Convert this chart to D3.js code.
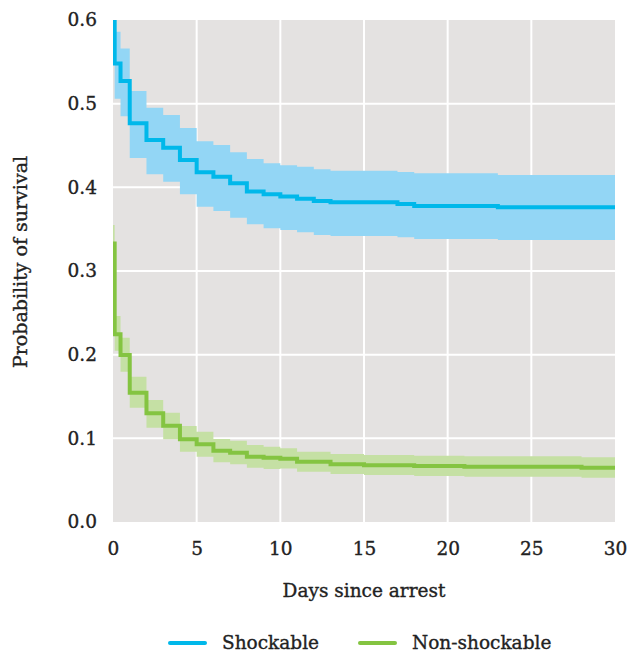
<!DOCTYPE html>
<html>
<head>
<meta charset="utf-8">
<script src="https://cdn.jsdelivr.net/npm/d3@7"></script>
<style>
  body { margin: 0; background: #fff; }
  text { font-family: "DejaVu Serif", serif; fill: #222; stroke: #222; stroke-width: 0.35px; }
</style>
</head>
<body>
<svg id="chart" width="642" height="653"></svg>
<script>
// Kaplan-Meier style survival curves
var shockDays = [0, 0.1, 0.45, 1, 2, 3, 4, 5, 6, 7, 8, 9, 10, 11, 12, 13, 17, 18, 23, 30];
var shockSurv = [0.64, 0.548, 0.527, 0.4765, 0.4566, 0.4474, 0.4327, 0.418, 0.4127, 0.405, 0.395, 0.3917, 0.389, 0.3864, 0.3837, 0.3821, 0.3801, 0.3777, 0.3761, 0.3761];
var shockLow  = [0.61, 0.506, 0.485, 0.435, 0.4155, 0.4067, 0.3917, 0.3769, 0.3717, 0.3637, 0.356, 0.351, 0.349, 0.3462, 0.343, 0.3418, 0.3402, 0.3382, 0.337, 0.337];
var shockHigh = [0.67, 0.586, 0.566, 0.515, 0.495, 0.4864, 0.471, 0.455, 0.4506, 0.4418, 0.4338, 0.4287, 0.4263, 0.4247, 0.4215, 0.4199, 0.4183, 0.4167, 0.4147, 0.4147];

var nonDays = [0, 0.1, 0.45, 1, 2, 3, 4, 5, 6, 7, 8, 9, 10, 11, 13, 15, 18, 21, 28, 30];
var nonSurv = [0.333, 0.2243, 0.1996, 0.1545, 0.1299, 0.1151, 0.0988, 0.0928, 0.0852, 0.0828, 0.078, 0.0769, 0.0755, 0.0721, 0.069, 0.0678, 0.0669, 0.0661, 0.0649, 0.0649];
var nonLow  = [0.31, 0.2048, 0.1797, 0.1366, 0.1127, 0.0988, 0.084, 0.078, 0.0713, 0.0689, 0.0649, 0.0633, 0.064, 0.0602, 0.0574, 0.0562, 0.055, 0.0542, 0.053, 0.053];
var nonHigh = [0.355, 0.2462, 0.2203, 0.1737, 0.1458, 0.1306, 0.1147, 0.1079, 0.0992, 0.0972, 0.092, 0.09, 0.0881, 0.0841, 0.0813, 0.0801, 0.0793, 0.0785, 0.0773, 0.0773];

var xTicks = [0, 5, 10, 15, 20, 25, 30];
var yTicks = [0, 0.1, 0.2, 0.3, 0.4, 0.5, 0.6];
var seriesNames = ['Shockable', 'Non-shockable'];

var svg = d3.select('svg#chart');
var pLeft = 113, pRight = 615, pTop = 20, pBottom = 522;
var fs = 18.5;

var x = d3.scaleLinear().domain([0, 30]).range([pLeft, pRight]);
var y = d3.scaleLinear().domain([0, 0.6]).range([pBottom, pTop]);

svg.append('defs').append('clipPath').attr('id', 'clip')
  .append('rect')
  .attr('x', pLeft).attr('y', pTop)
  .attr('width', pRight - pLeft).attr('height', pBottom - pTop);

svg.append('rect')
  .attr('x', pLeft).attr('y', pTop)
  .attr('width', pRight - pLeft).attr('height', pBottom - pTop)
  .attr('fill', '#e4e2e1');

// grid
svg.append('g').selectAll('line').data(xTicks.slice(1, -1)).enter().append('line')
  .attr('x1', d => x(d)).attr('x2', d => x(d))
  .attr('y1', pTop).attr('y2', pBottom)
  .attr('stroke', '#fff').attr('stroke-width', 2);
svg.append('g').selectAll('line').data(yTicks.slice(1, -1)).enter().append('line')
  .attr('x1', pLeft).attr('x2', pRight)
  .attr('y1', d => y(d)).attr('y2', d => y(d))
  .attr('stroke', '#fff').attr('stroke-width', 2);

function rows(days, s, lo, hi) {
  return days.map((d, i) => ({ t: d, s: s[i], lo: lo[i], hi: hi[i] }));
}
var series = [
  { data: rows(shockDays, shockSurv, shockLow, shockHigh), line: '#00b8ea', band: '#93d6f5' },
  { data: rows(nonDays, nonSurv, nonLow, nonHigh), line: '#84c441', band: '#c5e0a4' }
];

var area = d3.area().curve(d3.curveStepAfter)
  .x(d => x(d.t)).y0(d => y(d.lo)).y1(d => y(d.hi));
var line = d3.line().curve(d3.curveStepAfter)
  .x(d => x(d.t)).y(d => y(d.s));

var plot = svg.append('g').attr('clip-path', 'url(#clip)');
series.forEach(sr => {
  plot.append('path').attr('d', area(sr.data)).attr('fill', sr.band);
});
series.forEach(sr => {
  plot.append('path').attr('d', line(sr.data))
    .attr('fill', 'none').attr('stroke', sr.line).attr('stroke-width', 4);
});

// axes (labels only, no lines)
var xAxis = svg.append('g').attr('transform', 'translate(0,' + pBottom + ')')
  .call(d3.axisBottom(x).tickValues(xTicks).tickSize(0).tickPadding(20).tickFormat(d3.format('d')));
var yAxis = svg.append('g').attr('transform', 'translate(' + pLeft + ',0)')
  .call(d3.axisLeft(y).tickValues(yTicks).tickSize(0).tickPadding(16).tickFormat(d3.format('.1f')));
[xAxis, yAxis].forEach(a => {
  a.select('.domain').remove();
  a.selectAll('text').attr('font-size', fs).attr('font-family', '"DejaVu Serif", serif').attr('fill', '#222');
});

svg.append('text')
  .attr('x', (pLeft + pRight) / 2).attr('y', 597)
  .attr('text-anchor', 'middle').attr('font-size', fs)
  .text('Days since arrest');

svg.append('text')
  .attr('transform', 'translate(27,262) rotate(-90)')
  .attr('text-anchor', 'middle').attr('font-size', 19)
  .text('Probability of survival');

// legend
var legendX = [170, 360];
var lg = svg.append('g').selectAll('g').data(seriesNames).enter().append('g')
  .attr('transform', (d, i) => 'translate(' + legendX[i] + ',643)');
lg.append('line')
  .attr('x1', 0).attr('x2', 35)
  .attr('stroke', (d, i) => series[i].line).attr('stroke-width', 4)
  .attr('stroke-linecap', 'round');
lg.append('text')
  .attr('x', 52).attr('dy', '0.35em').attr('font-size', fs)
  .text(d => d);
</script>
</body>
</html>
